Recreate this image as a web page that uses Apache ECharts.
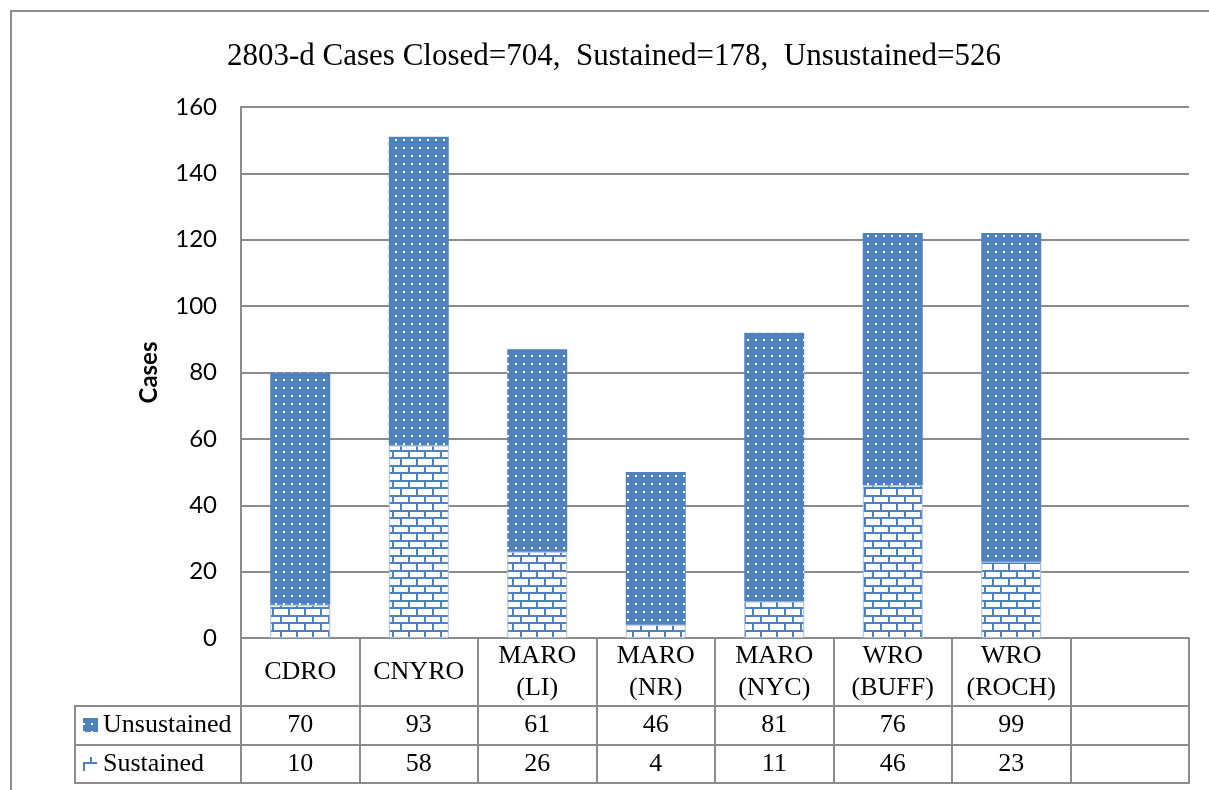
<!DOCTYPE html>
<html>
<head>
<meta charset="utf-8">
<script src="https://cdn.jsdelivr.net/npm/echarts@6/dist/echarts.min.js"></script>
<style>
html,body{margin:0;padding:0;background:#fff;}
#c{width:1209px;height:790px;}
</style>
</head>
<body>
<div id="c"></div>
<script>
const titleText = '2803-d Cases Closed=704,  Sustained=178,  Unsustained=526';
const categories = ['CDRO', 'CNYRO', 'MARO\n(LI)', 'MARO\n(NR)', 'MARO\n(NYC)', 'WRO\n(BUFF)', 'WRO\n(ROCH)', ''];
const sustained = [10, 58, 26, 4, 11, 46, 23];
const unsustained = [70, 93, 61, 46, 81, 76, 99];
const yTicks = { min: 0, max: 160, interval: 20 };
const seriesNames = ['Unsustained', 'Sustained'];
const yName = 'Cases';

const BLUE = '#4f81bd';
const GRID = '#8c8c8c';

function dotPattern() {
  const c = document.createElement('canvas');
  c.width = 8; c.height = 8;
  const g = c.getContext('2d');
  g.fillStyle = BLUE; g.fillRect(0, 0, 8, 8);
  g.fillStyle = '#fff'; g.fillRect(3, 3, 2, 2);
  return c;
}
function brickPattern() {
  const c = document.createElement('canvas');
  c.width = 16; c.height = 15;
  const g = c.getContext('2d');
  g.fillStyle = '#fff'; g.fillRect(0, 0, 16, 15);
  g.fillStyle = BLUE;
  g.fillRect(0, 0, 16, 2);
  g.fillRect(0, 7, 16, 2);
  g.fillRect(8, 2, 2, 5);
  g.fillRect(0, 9, 2, 6);
  return c;
}
const dots = { image: dotPattern(), repeat: 'repeat' };
const bricks = { image: brickPattern(), repeat: 'repeat' };

const chart = echarts.init(document.getElementById('c'), null, { renderer: 'canvas' });

const serif = 'Liberation Serif';
const sans = 'Lato';

function tableAxis(offset, values, showLabel) {
  return {
    type: 'category',
    data: categories,
    position: 'bottom',
    offset: offset,
    axisLine: { show: true, lineStyle: { color: GRID, width: 2 } },
    axisTick: { show: false },
    axisLabel: {
      show: showLabel,
      interval: 0,
      margin: 19,
      verticalAlign: 'middle',
      fontFamily: serif,
      fontSize: 26,
      color: '#000',
      formatter: function (v, i) { return values && values[i] != null ? String(values[i]) : ''; }
    },
    splitLine: { show: false }
  };
}

chart.setOption({
  animation: false,
  title: {
    text: titleText,
    left: 609,
    textAlign: 'center',
    top: 36,
    textStyle: { fontFamily: serif, fontSize: 31, fontWeight: 'normal', color: '#000' }
  },
  grid: { left: 241, right: 20, top: 107, bottom: 152, containLabel: false },
  xAxis: [
    {
      type: 'category',
      data: categories,
      position: 'bottom',
      axisLine: { show: true, lineStyle: { color: GRID, width: 2 } },
      axisTick: { show: true, alignWithLabel: false, interval: 0, length: 145, lineStyle: { color: GRID, width: 2 } },
      axisLabel: {
        interval: 0,
        margin: 34,
        verticalAlign: 'middle',
        lineHeight: 32,
        fontFamily: serif,
        fontSize: 26,
        color: '#000'
      }
    },
    tableAxis(68, unsustained, true),
    tableAxis(107, sustained, true),
    tableAxis(145, null, false)
  ],
  yAxis: {
    type: 'value',
    min: yTicks.min, max: yTicks.max, interval: yTicks.interval,
    name: yName,
    nameLocation: 'middle',
    nameGap: 80,
    nameRotate: 90,
    nameTextStyle: { fontFamily: sans, fontSize: 24, fontWeight: 'bold', color: '#000' },
    axisLine: { show: true, lineStyle: { color: GRID, width: 2 } },
    axisTick: { show: false },
    axisLabel: { margin: 24, fontFamily: sans, fontSize: 24, color: '#000' },
    splitLine: { show: true, lineStyle: { color: GRID, width: 2 } }
  },
  series: [
    {
      name: seriesNames[1], type: 'bar', stack: 'total', barWidth: 60,
      data: sustained,
      itemStyle: { color: bricks, borderColor: '#a9c0e0', borderWidth: 1 }
    },
    {
      name: seriesNames[0], type: 'bar', stack: 'total', barWidth: 60,
      data: unsustained,
      itemStyle: { color: dots }
    }
  ],
  graphic: [
    { type: 'rect', shape: { x: 11, y: 11, width: 1210, height: 820 }, style: { fill: 'none', stroke: GRID, lineWidth: 2 }, silent: true },
    { type: 'rect', shape: { x: 75, y: 706, width: 166, height: 77 }, style: { fill: 'none', stroke: GRID, lineWidth: 2 }, silent: true },
    { type: 'line', shape: { x1: 75, y1: 745, x2: 241, y2: 745 }, style: { stroke: GRID, lineWidth: 2 }, silent: true },
    { type: 'rect', shape: { x: 83, y: 718, width: 15, height: 14 }, style: { fill: dots }, silent: true },
    { type: 'line', shape: { x1: 83, y1: 763, x2: 97, y2: 763 }, style: { stroke: BLUE, lineWidth: 2 }, silent: true },
    { type: 'line', shape: { x1: 91, y1: 757, x2: 91, y2: 763 }, style: { stroke: BLUE, lineWidth: 2 }, silent: true },
    { type: 'line', shape: { x1: 84, y1: 763, x2: 84, y2: 771 }, style: { stroke: BLUE, lineWidth: 2 }, silent: true },
    { type: 'text', x: 103, y: 725.5, style: { text: seriesNames[0], fontFamily: serif, fontSize: 26, fill: '#000', textVerticalAlign: 'middle' }, silent: true },
    { type: 'text', x: 103, y: 764, style: { text: seriesNames[1], fontFamily: serif, fontSize: 26, fill: '#000', textVerticalAlign: 'middle' }, silent: true }
  ]
});
</script>
</body>
</html>
